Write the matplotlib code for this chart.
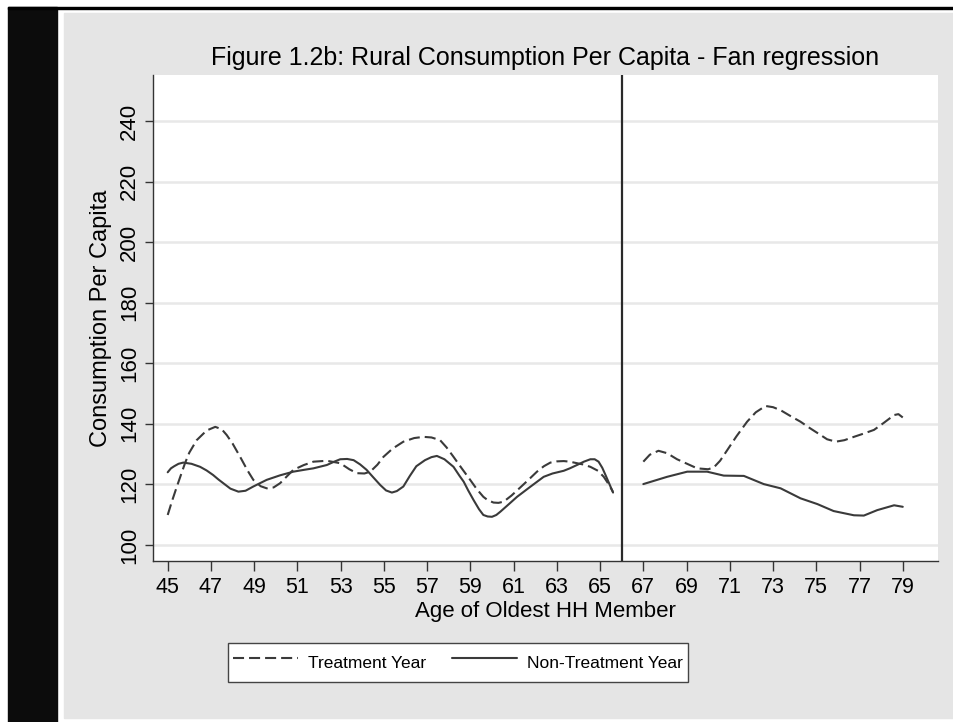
"""Rural consumption per capita - fan regression, Stata-style figure."""

import matplotlib

matplotlib.use("Agg")
import matplotlib.pyplot as plt
from matplotlib.patches import Rectangle

OUT_PATH = "out.png"

TITLE = "Figure 1.2b: Rural Consumption Per Capita - Fan regression"
X_LABEL = "Age of Oldest HH Member"
Y_LABEL = "Consumption Per Capita"
LEGEND_LABELS = ["Treatment Year", "Non-Treatment Year"]

X_TICKS = [45, 47, 49, 51, 53, 55, 57, 59, 61, 63, 65, 67, 69, 71, 73, 75, 77, 79]
Y_TICKS = [100, 120, 140, 160, 180, 200, 220, 240]
CUTOFF_AGE = 66

# treatment year, below cutoff
treat_left_age = [45.0, 45.2, 45.42, 45.8, 46.0, 46.34, 46.8, 47.2, 47.5, 47.73,
                  48.0, 48.35, 48.7, 48.96, 49.3, 49.58, 49.9, 50.2, 50.81, 51.3,
                  51.74, 52.36, 52.98, 53.4, 53.75, 54.1, 54.37, 54.7, 54.98, 55.4,
                  55.9, 56.4, 56.83, 57.2, 57.6, 57.9, 58.22, 58.6, 59.0, 59.3,
                  59.6, 59.8, 60.07, 60.3, 60.54, 60.9, 61.31, 61.7, 62.08, 62.4,
                  62.7, 63.0, 63.32, 63.6, 63.93, 64.2, 64.55, 64.9, 65.17, 65.4,
                  65.6]
treat_left_val = [109.9, 114.5, 119.2, 127.0, 130.5, 134.6, 137.8, 139.0, 138.2, 136.3,
                  133.5, 129.1, 124.5, 121.5, 119.4, 118.7, 119.0, 120.4, 124.8, 126.4,
                  127.5, 127.8, 127.0, 125.0, 123.7, 123.6, 124.2, 126.5, 129.1, 131.8,
                  134.1, 135.3, 135.7, 135.5, 134.6, 132.2, 129.1, 125.3, 121.4, 118.4,
                  115.9, 114.8, 114.0, 113.9, 114.3, 116.3, 119.0, 121.6, 124.2, 126.0,
                  127.2, 127.6, 127.7, 127.5, 127.0, 126.6, 125.8, 124.5, 122.5, 120.0,
                  117.5]

# treatment year, above cutoff
treat_right_age = [67.0, 67.3, 67.7, 68.1, 68.56, 69.49, 70.0, 70.26, 70.55, 70.88,
                   71.3, 71.8, 72.2, 72.65, 73.0, 73.35, 73.8, 74.27, 74.7, 75.2,
                   75.5, 75.9, 76.3, 76.74, 77.2, 77.67, 78.1, 78.6, 78.8, 79.0]
treat_right_val = [127.5, 129.8, 131.1, 130.3, 128.3, 125.3, 125.0, 125.6, 127.8, 131.3,
                   135.8, 140.7, 143.8, 145.9, 145.5, 144.5, 142.6, 140.7, 138.6, 136.3,
                   134.9, 134.1, 134.6, 135.7, 136.8, 138.0, 140.2, 142.9, 143.2, 142.1]

# non-treatment year, below cutoff
nontreat_left_age = [45.0, 45.15, 45.3, 45.5, 45.72, 46.1, 46.5, 46.8, 47.1, 47.35,
                     47.57, 47.9, 48.27, 48.6, 48.96, 49.58, 50.2, 50.81, 51.3, 51.74,
                     52.36, 52.7, 52.98, 53.3, 53.6, 53.9, 54.2, 54.5, 54.83, 55.1,
                     55.37, 55.6, 55.9, 56.2, 56.5, 56.9, 57.2, 57.45, 57.8, 58.22,
                     58.5, 58.69, 58.9, 59.15, 59.4, 59.6, 59.8, 60.0, 60.2, 60.39,
                     60.8, 61.16, 61.77, 62.39, 62.8, 63.32, 63.6, 63.93, 64.25, 64.55,
                     64.75, 64.93, 65.1, 65.25, 65.45, 65.6]
nontreat_left_val = [124.0, 125.3, 126.0, 126.8, 127.2, 126.8, 125.8, 124.6, 123.1, 121.6,
                     120.4, 118.6, 117.6, 117.9, 119.3, 121.5, 123.0, 124.2, 124.8, 125.3,
                     126.4, 127.5, 128.3, 128.4, 128.0, 126.6, 124.8, 122.4, 119.8, 118.0,
                     117.3, 117.8, 119.3, 122.8, 126.0, 128.0, 129.0, 129.4, 128.3, 125.8,
                     122.8, 120.9, 118.0, 114.8, 111.8, 109.9, 109.4, 109.3, 109.9, 111.0,
                     113.6, 115.9, 119.2, 122.5, 123.6, 124.5, 125.3, 126.4, 127.5, 128.3,
                     128.3, 127.5, 125.5, 123.1, 119.8, 117.3]

# non-treatment year, above cutoff
nontreat_right_age = [67.0, 68.1, 69.03, 69.95, 70.72, 71.65, 72.57, 73.35, 74.27, 75.05,
                      75.8, 76.74, 77.2, 77.82, 78.6, 79.0]
nontreat_right_val = [120.1, 122.5, 124.2, 124.2, 122.9, 122.8, 120.1, 118.7, 115.4, 113.5,
                      111.2, 109.8, 109.7, 111.5, 113.1, 112.6]

LINE_COLOR = "#3a3a3a"
DASHES = (0, (5.3, 2.4))
W, H = 954, 722


def main() -> None:
    plt.rcParams["font.family"] = ["Liberation Sans", "DejaVu Sans"]

    fig = plt.figure(figsize=(W / 100, H / 100), dpi=100, facecolor="white")

    # Stata-ish frame: black strip on the left, thin top rule, grey panel
    frame = [
        Rectangle((8 / W, 0), 49 / W, 1 - 7 / H, color="#0c0c0c"),
        Rectangle((8 / W, 1 - 9 / H), 1, 2.2 / H, color="#000000"),
        Rectangle((64 / W, 1 - 718 / H), 1, (718 - 13) / H, color="#e5e5e5"),
    ]
    for patch in frame:
        patch.set_transform(fig.transFigure)
        patch.set_zorder(-5)
        fig.patches.append(patch)

    ax = fig.add_axes([153 / W, 1 - 561 / H, (938 - 153) / W, (561 - 75) / H])
    ax.set_zorder(1)
    ax.set_facecolor("white")

    style = dict(color=LINE_COLOR, lw=1.5, solid_joinstyle="round", dash_joinstyle="round",
                 solid_capstyle="round")
    ax.plot(treat_left_age, treat_left_val, linestyle=DASHES, label=LEGEND_LABELS[0], **style)
    ax.plot(treat_right_age, treat_right_val, linestyle=DASHES, **style)
    ax.plot(nontreat_left_age, nontreat_left_val, label=LEGEND_LABELS[1], **style)
    ax.plot(nontreat_right_age, nontreat_right_val, **style)
    ax.axvline(CUTOFF_AGE, color="#2a2a2a", lw=1.6)

    ax.set_xlim(44.32, 80.63)
    ax.set_ylim(94.7, 255.2)
    ax.set_xticks(X_TICKS)
    ax.set_yticks(Y_TICKS)
    ax.grid(axis="y", color="#e8e8e8", lw=1.8, zorder=0)
    ax.set_axisbelow(True)

    for side in ("top", "right"):
        ax.spines[side].set_visible(False)
    for side in ("left", "bottom"):
        ax.spines[side].set_color("#333333")
        ax.spines[side].set_linewidth(1.0)

    ax.tick_params(axis="x", direction="out", length=7.2, width=1.0, color="#333333",
                   labelsize=15.5, pad=4)
    ax.tick_params(axis="y", direction="out", length=6, width=1.0, color="#333333",
                   labelsize=16, pad=3.5, labelrotation=90)
    for lbl in ax.get_yticklabels():
        lbl.set_va("center")

    ax.set_xlabel(X_LABEL, fontsize=16, va="baseline")
    ax.xaxis.set_label_coords(0.5, (561 - 617) / 486)
    ax.set_ylabel(Y_LABEL, fontsize=17, va="center")
    ax.yaxis.set_label_coords((101 - 153) / 785, 0.5)

    fig.text(545.5 / W, 1 - 65 / H, TITLE, fontsize=18, ha="center", va="baseline")

    leg = fig.legend(loc="center", bbox_to_anchor=(458 / W, 1 - 662.5 / H), ncol=2,
                     frameon=True, fancybox=False, framealpha=1.0, handlelength=3.75,
                     handletextpad=0.6, columnspacing=1.45, borderpad=0.3, handleheight=2.1,
                     prop={"size": 12.5})
    leg.get_frame().set_edgecolor("#444444")
    leg.get_frame().set_linewidth(1.0)
    leg.set_zorder(2)

    fig.savefig(OUT_PATH, dpi=100, facecolor="white")
    plt.close(fig)


if __name__ == "__main__":
    main()
